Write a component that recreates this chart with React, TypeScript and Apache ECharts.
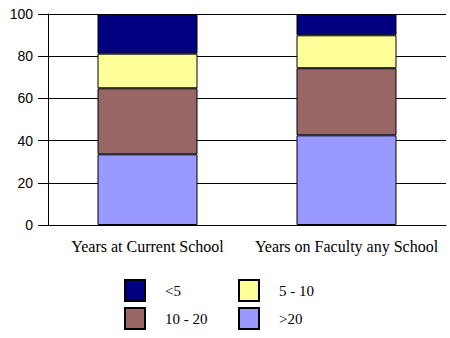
import React, { useEffect, useRef } from "react";
import * as echarts from "echarts";

const categories = ["Years at Current School", "Years on Faculty any School"];
const over20 = [33.5, 42.5];
const from10to20 = [31.3, 31.8];
const from5to10 = [16.4, 15.6];
const under5 = [18.8, 10.1];
const yTicks = [0, 20, 40, 60, 80, 100];

export default function App() {
  const ref = useRef<HTMLDivElement>(null);
  useEffect(() => {
    const chart = echarts.init(ref.current!, null, { renderer: "svg" });
    const serif = "'Liberation Serif', 'Times New Roman', serif";
    const sans = "'Liberation Sans', Arial, sans-serif";
    const border = { borderColor: "#000", borderWidth: 1 };
    const legendText = {
      fontFamily: serif,
      fontSize: 15,
      color: "#000",
      padding: [0, 0, 0, 15],
    };
    chart.setOption({
      animation: false,
      backgroundColor: "#fff",
      grid: { left: 48, right: 4, top: 14, bottom: 113, containLabel: false },
      legend: [
        {
          orient: "vertical",
          left: 119,
          top: 274,
          icon: "rect",
          itemWidth: 20,
          itemHeight: 21,
          itemGap: 5,
          data: ["<5", "10 - 20"],
          textStyle: legendText,
          selectedMode: false,
        },
        {
          orient: "vertical",
          left: 233,
          top: 274,
          icon: "rect",
          itemWidth: 20,
          itemHeight: 21,
          itemGap: 5,
          data: ["5 - 10", ">20"],
          textStyle: legendText,
          selectedMode: false,
        },
      ],
      xAxis: {
        type: "category",
        data: categories,
        axisLine: { lineStyle: { color: "#000", width: 1 } },
        axisTick: { alignWithLabel: true, length: 8, lineStyle: { color: "#000" } },
        axisLabel: { fontFamily: serif, fontSize: 16, color: "#000", margin: 13, interval: 0 },
      },
      yAxis: {
        type: "value",
        min: yTicks[0],
        max: yTicks[yTicks.length - 1],
        interval: 20,
        axisLine: { show: true, lineStyle: { color: "#000", width: 1 } },
        axisTick: { show: true, length: 10, lineStyle: { color: "#000" } },
        axisLabel: { fontFamily: sans, fontSize: 14, color: "#000", margin: 15 },
        splitLine: { show: true, lineStyle: { color: "#000", width: 1 } },
      },
      series: [
        { name: ">20", type: "bar", stack: "s", data: over20, barWidth: 100, itemStyle: { color: "#9999FF", ...border } },
        { name: "10 - 20", type: "bar", stack: "s", data: from10to20, barWidth: 100, itemStyle: { color: "#996666", ...border } },
        { name: "5 - 10", type: "bar", stack: "s", data: from5to10, barWidth: 100, itemStyle: { color: "#FFFF99", ...border } },
        { name: "<5", type: "bar", stack: "s", data: under5, barWidth: 100, itemStyle: { color: "#000080", ...border } },
      ],
    });
    return () => chart.dispose();
  }, []);
  return <div ref={ref} style={{ width: 450, height: 338, position: "absolute", left: 0, top: 0 }} />;
}
